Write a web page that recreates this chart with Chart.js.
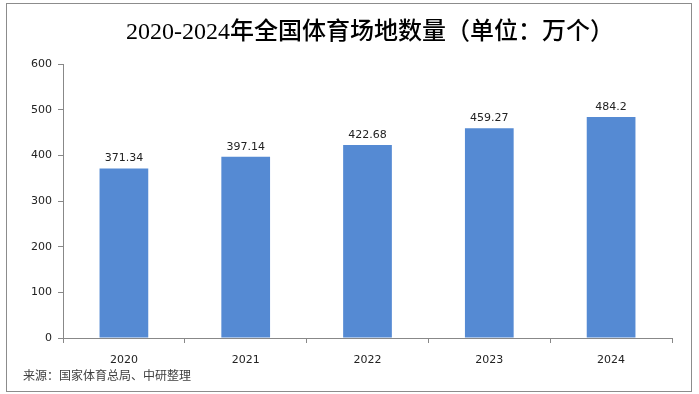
<!DOCTYPE html>
<html>
<head>
<meta charset="utf-8">
<script src="https://cdn.jsdelivr.net/npm/chart.js@4.4.0/dist/chart.umd.min.js"></script>
<style>
html,body{margin:0;padding:0;background:#fff;}
#wrap{width:699px;height:394px;}
</style>
</head>
<body>
<div id="wrap"><canvas id="c" width="699" height="394"></canvas></div>
<script>
const categories = ['2020', '2021', '2022', '2023', '2024'];
const venueCounts = [371.34, 397.14, 422.68, 459.27, 484.2];
const valueLabels = ['371.34', '397.14', '422.68', '459.27', '484.2'];
const titleText = '2020-2024年全国体育场地数量（单位：万个）';
const sourceText = '来源：国家体育总局、中研整理';

const tickFont = {family: 'DejaVu Sans, Verdana, sans-serif', size: 11};

const decor = {
  id: 'decor',
  beforeDraw(chart) {
    const ctx = chart.ctx;
    ctx.save();
    ctx.fillStyle = '#fff';
    ctx.fillRect(0, 0, chart.width, chart.height);
    ctx.strokeStyle = '#8c8c8c';
    ctx.lineWidth = 1;
    ctx.strokeRect(6.5, 3.5, 685, 388);
    ctx.restore();
  },
  afterDraw(chart) {
    const ctx = chart.ctx;
    ctx.save();
    ctx.fillStyle = '#000';
    ctx.textAlign = 'center';
    ctx.textBaseline = 'middle';
    ctx.font = '500 24px "Liberation Serif", "Noto Sans CJK SC", serif';
    ctx.fillText(titleText, 370, 33);
    ctx.textAlign = 'left';
    ctx.fillStyle = '#404040';
    ctx.font = '12px "Noto Sans CJK SC", sans-serif';
    ctx.fillText(sourceText, 23, 375);
    const meta = chart.getDatasetMeta(0);
    ctx.fillStyle = '#222';
    ctx.textAlign = 'center';
    ctx.textBaseline = 'alphabetic';
    ctx.font = '11px "DejaVu Sans", Verdana, sans-serif';
    meta.data.forEach((bar, i) => {
      ctx.fillText(valueLabels[i], bar.x, bar.y - 7);
    });
    ctx.restore();
  }
};

new Chart(document.getElementById('c'), {
  type: 'bar',
  data: {
    labels: categories,
    datasets: [{
      data: venueCounts,
      backgroundColor: 'rgb(85,138,211)',
      borderWidth: 0,
      categoryPercentage: 1,
      barPercentage: 0.4
    }]
  },
  options: {
    responsive: false,
    animation: false,
    devicePixelRatio: 1,
    layout: {padding: {left: 0, right: 27, top: 64, bottom: 0}},
    plugins: {legend: {display: false}, tooltip: {enabled: false}, title: {display: false}},
    scales: {
      x: {
        afterFit(s) { s.height = 394 - 338; },
        grid: {display: true, drawOnChartArea: false, offset: true, tickLength: 5, color: '#888'},
        border: {display: true, color: '#888'},
        ticks: {color: '#222', font: tickFont, padding: 11, maxRotation: 0}
      },
      y: {
        min: 0, max: 600,
        afterFit(s) { s.width = 63; },
        grid: {display: true, drawOnChartArea: false, tickLength: 5, color: '#888'},
        border: {display: true, color: '#888'},
        ticks: {stepSize: 100, color: '#222', font: tickFont, padding: 6}
      }
    }
  },
  plugins: [decor]
});
</script>
</body>
</html>
